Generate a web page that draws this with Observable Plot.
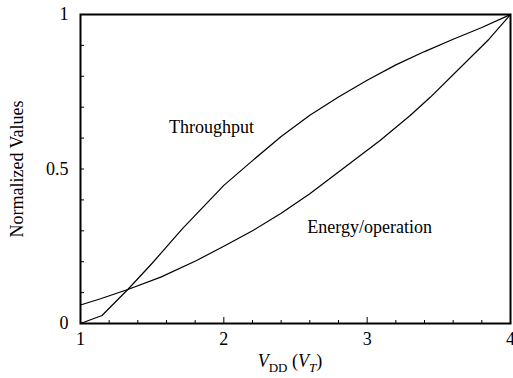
<!DOCTYPE html>
<html><head><meta charset="utf-8">
<script src="https://cdn.jsdelivr.net/npm/d3@7"></script>
<script src="https://cdn.jsdelivr.net/npm/@observablehq/plot@0.6"></script>
<style>
body{margin:0;background:#fff}
svg, svg text, svg tspan { font-family: "Liberation Serif", "Times New Roman", serif !important; }
</style>
</head><body><div id="chart"></div>
<script>
// Throughput vs VDD
const throughputVdd = [1, 1.15, 1.33, 1.5, 1.71, 2.0, 2.2, 2.4, 2.6, 2.8, 3.0, 3.2, 3.4, 3.6, 3.8, 4];
const throughput    = [0, 0.026, 0.11, 0.195, 0.306, 0.447, 0.527, 0.605, 0.674, 0.733, 0.787, 0.837, 0.88, 0.92, 0.958, 1];
// Energy/operation vs VDD
const energyVdd = [1, 1.14, 1.33, 1.56, 1.81, 2.0, 2.2, 2.4, 2.6, 2.86, 3.09, 3.3, 3.44, 3.7, 3.85, 4];
const energy    = [0.06, 0.08, 0.11, 0.15, 0.204, 0.25, 0.30, 0.357, 0.42, 0.511, 0.592, 0.673, 0.732, 0.851, 0.92, 1];
// Axis ticks
const xMajor = [1, 2, 3, 4];
const xMinor = d3.range(1.2, 4, 0.2).filter(v => Math.abs(v - Math.round(v)) > 1e-6);
const xMid = [2, 3];
const yMajor = [0, 0.5, 1];
const yMinor = d3.range(0.1, 1, 0.1);
// Curve labels
const labels = [
  {x: 1.914, y: 0.634, text: "Throughput"},
  {x: 3.017, y: 0.312, text: "Energy/operation"}
];

const W = 513, H = 378, mL = 80, mR = 3, mT = 14, mB = 55;
const plotW = W - mL - mR, plotH = H - mT - mB;

const tData = throughputVdd.map((x, i) => ({x, y: throughput[i]}));
const eData = energyVdd.map((x, i) => ({x, y: energy[i]}));

const plot = Plot.plot({
  width: W, height: H,
  marginLeft: mL, marginRight: mR, marginTop: mT, marginBottom: mB,
  x: {domain: [1, 4]},
  y: {domain: [0, 1]},
  style: {fontFamily: "'Liberation Serif', serif", fontSize: "18px", color: "black", background: "white", overflow: "visible"},
  marks: [
    Plot.ruleX(xMinor, {x: d => d, insetTop: plotH - 3, stroke: "black", strokeWidth: 1}),
    Plot.ruleX(xMid, {x: d => d, insetTop: plotH - 6, stroke: "black", strokeWidth: 1}),
    Plot.ruleY(yMinor, {y: d => d, insetRight: plotW - 4, stroke: "black", strokeWidth: 1}),
    Plot.axisX(xMajor, {tickSize: 0, tickPadding: 9, tickFormat: d => String(d), label: null}),
    Plot.axisY(yMajor, {tickSize: 0, tickPadding: 12, tickFormat: d => String(d),
      label: "Normalized Values", labelAnchor: "center", labelArrow: "none", labelOffset: 70}),
    Plot.line(tData, {x: "x", y: "y", stroke: "black", strokeWidth: 1.2}),
    Plot.line(eData, {x: "x", y: "y", stroke: "black", strokeWidth: 1.2}),
    Plot.text(labels, {x: "x", y: "y", text: "text", fill: "black", fontSize: 18}),
    Plot.frame({stroke: "black", strokeWidth: 2})
  ]
});
document.getElementById("chart").appendChild(plot);

// X-axis label with italics and subscripts
const xs = plot.scale("x");
const t = d3.select(plot).append("text")
  .attr("x", (xs.apply(2) + xs.apply(3)) / 2 - 5)
  .attr("y", H - 11)
  .attr("text-anchor", "middle")
  .attr("fill", "black")
  .attr("font-size", 18);
t.append("tspan").attr("font-style", "italic").text("V");
t.append("tspan").attr("font-size", 13).attr("dy", 5).text("DD");
t.append("tspan").attr("dy", -5).text(" (");
t.append("tspan").attr("font-style", "italic").text("V");
t.append("tspan").attr("font-style", "italic").attr("font-size", 13).attr("dy", 5).text("T");
t.append("tspan").attr("dy", -5).text(")");
</script>
</body></html>
